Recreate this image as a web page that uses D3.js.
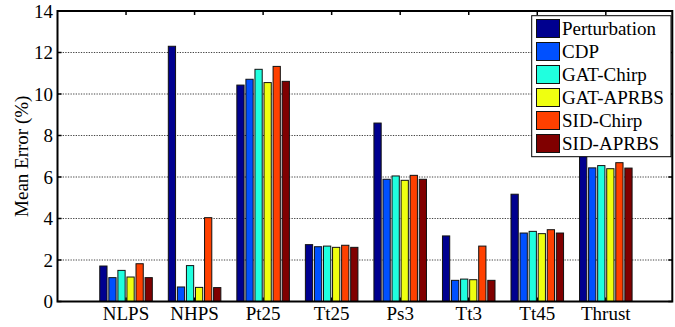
<!DOCTYPE html>
<html>
<head>
<meta charset="utf-8">
<script src="https://cdn.jsdelivr.net/npm/d3@7"></script>
<style>
  html, body { margin: 0; padding: 0; background: #fff; }
  svg { display: block; }
  text { font-family: "Liberation Serif", "Times New Roman", serif; fill: #000; }
</style>
</head>
<body>
<svg id="chart" width="675" height="327"></svg>
<script>
// Mean error per signal, one array per identification method
const categories = ["NLPS", "NHPS", "Pt25", "Tt25", "Ps3", "Tt3", "Tt45", "Thrust"];
const seriesNames = ["Perturbation", "CDP", "GAT-Chirp", "GAT-APRBS", "SID-Chirp", "SID-APRBS"];
const perturbation = [1.71, 12.30, 10.43, 2.74, 8.60, 3.16, 5.17, 7.20];
const cdp          = [1.15, 0.70, 10.71, 2.64, 5.89, 1.02, 3.30, 6.44];
const gatChirp     = [1.50, 1.73, 11.19, 2.67, 6.05, 1.08, 3.38, 6.55];
const gatAprbs     = [1.18, 0.68, 10.55, 2.61, 5.84, 1.05, 3.27, 6.40];
const sidChirp     = [1.82, 4.04, 11.33, 2.71, 6.08, 2.67, 3.46, 6.69];
const sidAprbs     = [1.15, 0.67, 10.61, 2.61, 5.89, 1.02, 3.30, 6.43];
const yTicks = [0, 2, 4, 6, 8, 10, 12, 14];
const colors = ["#00008f", "#0050ff", "#20ffdf", "#efff10", "#ff4000", "#800000"];

const seriesValues = [perturbation, cdp, gatChirp, gatAprbs, sidChirp, sidAprbs];

const svg = d3.select("#chart");
const plotLeft = 57.5, plotRight = 672.3, plotTop = 11, plotBottom = 301.5;

// categories sit at integer positions 1..8
const x = d3.scaleLinear().domain([0, 8.97]).range([plotLeft, plotRight]);
const y = d3.scaleLinear().domain([0, 14]).range([plotBottom, plotTop]);
const groupWidth = 0.793;
const inner = d3.scaleBand().domain(seriesNames)
  .range([-groupWidth / 2, groupWidth / 2])
  .paddingInner(0.2).paddingOuter(0.1);

// dotted grid
svg.append("g").selectAll("line")
  .data(yTicks.filter(t => t > 0 && t < 14))
  .join("line")
  .attr("x1", plotLeft).attr("x2", plotRight)
  .attr("y1", d => y(d)).attr("y2", d => y(d))
  .attr("stroke", "#444").attr("stroke-width", 1)
  .attr("stroke-dasharray", "1.3,1.3");

// inward tick marks on all four sides
const tickLen = 4;
const ticks = svg.append("g").attr("stroke", "#000").attr("stroke-width", 1.5);
categories.forEach((c, i) => {
  const xp = x(i + 1);
  ticks.append("line").attr("x1", xp).attr("x2", xp).attr("y1", plotTop).attr("y2", plotTop + tickLen);
  ticks.append("line").attr("x1", xp).attr("x2", xp).attr("y1", plotBottom).attr("y2", plotBottom - tickLen);
});
yTicks.forEach(t => {
  ticks.append("line").attr("x1", plotLeft).attr("x2", plotLeft + tickLen).attr("y1", y(t)).attr("y2", y(t));
  ticks.append("line").attr("x1", plotRight).attr("x2", plotRight - tickLen).attr("y1", y(t)).attr("y2", y(t));
});

// bars
const barData = [];
categories.forEach((c, ci) => {
  seriesNames.forEach((s, si) => {
    barData.push({ ci, s, si, v: seriesValues[si][ci] });
  });
});
const xUnit = x(1) - x(0);
svg.append("g").selectAll("rect")
  .data(barData)
  .join("rect")
  .attr("x", d => x(d.ci + 1 + inner(d.s)))
  .attr("width", inner.bandwidth() * xUnit)
  .attr("y", d => y(d.v))
  .attr("height", d => y(0) - y(d.v))
  .attr("fill", d => colors[d.si])
  .attr("stroke", "#111")
  .attr("stroke-width", 1);

// axes box
svg.append("rect")
  .attr("x", plotLeft).attr("y", plotTop)
  .attr("width", plotRight - plotLeft).attr("height", plotBottom - plotTop)
  .attr("fill", "none").attr("stroke", "#000").attr("stroke-width", 2);

// tick labels
svg.append("g").selectAll("text")
  .data(yTicks).join("text")
  .attr("x", 53).attr("y", d => y(d) + 6.5)
  .attr("text-anchor", "end").attr("font-size", 19)
  .text(d => d);

svg.append("g").selectAll("text")
  .data(categories).join("text")
  .attr("x", (d, i) => x(i + 1)).attr("y", 319.5)
  .attr("text-anchor", "middle").attr("font-size", 19)
  .text(d => d);

svg.append("text")
  .attr("transform", `translate(28,${(plotTop + plotBottom) / 2}) rotate(-90)`)
  .attr("text-anchor", "middle").attr("font-size", 19)
  .text("Mean Error (%)");

// legend
const lg = svg.append("g");
lg.append("rect")
  .attr("x", 531.7).attr("y", 15.7).attr("width", 139.3).attr("height", 141)
  .attr("fill", "#fff").attr("stroke", "#000").attr("stroke-width", 1);
seriesNames.forEach((s, i) => {
  const cy = 28.5 + i * 23;
  lg.append("rect")
    .attr("x", 536.5).attr("y", cy - 9).attr("width", 23).attr("height", 18)
    .attr("fill", colors[i]).attr("stroke", "#111").attr("stroke-width", 1);
  lg.append("text")
    .attr("x", 562).attr("y", cy + 6.5).attr("font-size", 19)
    .text(s);
});
</script>
</body>
</html>
